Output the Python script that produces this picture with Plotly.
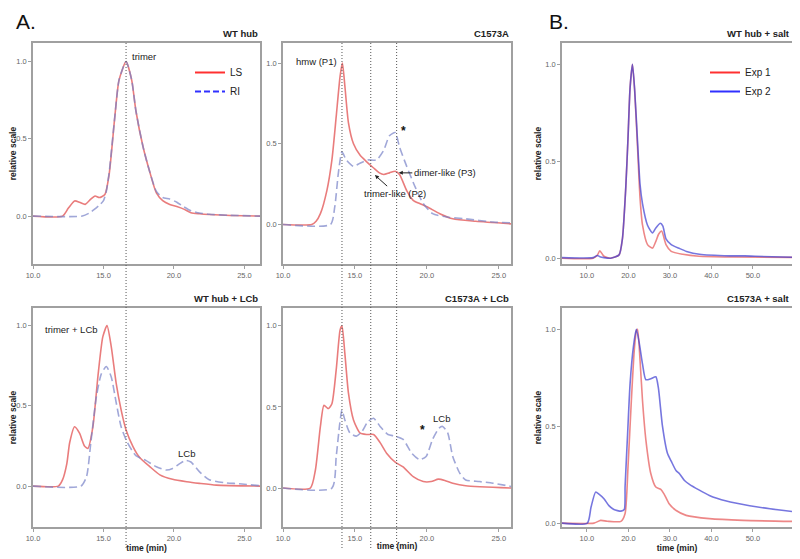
import plotly.graph_objects as go
from plotly.subplots import make_subplots

# ---- data (time in min, signal normalised) ----
# A. WT hub
wt_ls_t = [10, 12.1, 12.5, 12.95, 13.3, 13.7, 14.1, 14.4, 14.7, 15.1, 15.4, 15.8, 16.1, 16.6,
           17.0, 17.3, 17.8, 18.3, 18.75, 19.2, 19.7, 20.2, 20.7, 21.2, 21.8, 22.5, 24.0, 26.1]
wt_ls = [0, 0, 0.05, 0.098, 0.09, 0.076, 0.11, 0.13, 0.12, 0.14, 0.27, 0.64, 0.88, 1.0,
         0.88, 0.68, 0.45, 0.28, 0.15, 0.10, 0.075, 0.062, 0.045, 0.022, 0.015, 0.01, 0.004, 0]
wt_ri_t = [10, 13.5, 14.0, 14.3, 14.7, 15.0, 15.2, 15.4, 15.8, 16.1, 16.6, 17.0, 17.3, 17.8,
           18.3, 18.75, 19.2, 19.7, 20.2, 20.7, 21.2, 21.8, 22.5, 24.0, 26.1]
wt_ri = [0, 0, 0.02, 0.04, 0.07, 0.1, 0.16, 0.28, 0.64, 0.88, 1.0, 0.88, 0.68, 0.45,
         0.28, 0.16, 0.12, 0.11, 0.09, 0.06, 0.035, 0.02, 0.012, 0.005, 0]

# A. C1573A
mut_ls_t = [10, 12.0, 12.3, 12.6, 13.05, 13.4, 13.7, 13.97, 14.13, 14.3, 14.55, 14.9, 15.35,
            15.8, 16.3, 16.7, 17.0, 17.4, 17.8, 18.1, 18.6, 19.05, 19.5, 20.0, 20.9, 21.8, 23.4, 25.85]
mut_ls = [0, 0, 0.02, 0.067, 0.21, 0.4, 0.67, 0.92, 1.0, 0.86, 0.63, 0.5, 0.43,
          0.39, 0.35, 0.32, 0.31, 0.32, 0.33, 0.31, 0.21, 0.15, 0.13, 0.11, 0.067, 0.035, 0.02, 0.004]
mut_ri_t = [10, 13.3, 13.6, 13.85, 14.1, 14.4, 14.9, 15.35, 15.9, 16.5, 17.0, 17.4, 17.8, 18.1,
            18.6, 19.2, 19.75, 20.4, 21.4, 22.7, 24.6, 25.85]
mut_ri = [0, 0, 0.11, 0.32, 0.45, 0.4, 0.36, 0.38, 0.40, 0.40, 0.46, 0.55, 0.57, 0.48,
          0.36, 0.23, 0.13, 0.067, 0.046, 0.035, 0.015, 0.01]

# A. WT hub + LCb
wtl_ls_t = [10, 11.8, 12.1, 12.4, 12.6, 12.95, 13.3, 13.65, 13.9, 14.25, 14.6, 14.95, 15.25,
            15.55, 15.9, 16.25, 16.6, 17.1, 17.55, 18.3, 19.0, 19.9, 20.9, 21.8, 23.0, 26.1]
wtl_ls = [0, 0, 0.04, 0.14, 0.27, 0.37, 0.33, 0.25, 0.235, 0.37, 0.68, 0.93, 1.0,
          0.87, 0.64, 0.475, 0.35, 0.245, 0.18, 0.12, 0.07, 0.042, 0.027, 0.017, 0.006, 0]
wtl_ri_t = [10, 13.4, 13.8, 14.1, 14.5, 14.85, 15.2, 15.55, 15.9, 16.25, 16.7, 17.3, 18.0,
            18.75, 19.45, 19.9, 20.4, 20.85, 21.2, 21.8, 22.5, 23.7, 24.6, 26.1]
wtl_ri = [0, 0, 0.06, 0.27, 0.56, 0.70, 0.745, 0.68, 0.52, 0.37, 0.27, 0.19, 0.16,
          0.12, 0.10, 0.11, 0.14, 0.16, 0.15, 0.09, 0.04, 0.02, 0.015, 0.002]

# A. C1573A + LCb
mutl_ls_t = [10, 11.9, 12.25, 12.6, 12.85, 13.15, 13.4, 13.7, 13.97, 14.1, 14.3, 14.55, 14.9,
             15.35, 15.8, 16.3, 16.75, 17.2, 17.8, 18.35, 19.05, 19.75, 20.3, 20.8, 21.25,
             21.8, 22.7, 25.85]
mutl_ls = [0, 0, 0.11, 0.38, 0.51, 0.49, 0.52, 0.73, 0.975, 1.0, 0.83, 0.585, 0.42,
           0.34, 0.33, 0.33, 0.28, 0.215, 0.16, 0.13, 0.07, 0.04, 0.04, 0.055, 0.047,
           0.03, 0.014, 0]
mutl_ri_t = [10, 13.4, 13.7, 13.95, 14.1, 14.3, 14.65, 15.1, 15.5, 15.9, 16.3, 16.75, 17.3,
             17.8, 18.35, 18.95, 19.5, 19.95, 20.4, 20.85, 21.1, 21.45, 21.8, 22.3, 22.7,
             23.65, 24.6, 25.85]
mutl_ri = [0, 0, 0.195, 0.40, 0.48, 0.42, 0.34, 0.32, 0.35, 0.41, 0.43, 0.38, 0.33,
           0.32, 0.30, 0.215, 0.175, 0.195, 0.30, 0.37, 0.38, 0.34, 0.195, 0.09, 0.05,
           0.04, 0.03, 0.01]

# B. WT hub + salt
wts_e1_t = [4, 11.5, 12.5, 13.1, 14.1, 15.7, 17.75, 18.55, 19.35, 19.9, 20.4, 20.97, 21.5,
            22.2, 22.8, 23.4, 24.6, 25.8, 26.6, 27.3, 28.0, 29.05, 30.3, 33.1, 37, 45, 59.4]
wts_e1 = [0, 0, 0.015, 0.038, 0.01, 0.0, 0.017, 0.1, 0.36, 0.62, 0.88, 1.0, 0.865,
          0.57, 0.31, 0.17, 0.07, 0.052, 0.087, 0.125, 0.14, 0.07, 0.035, 0.02, 0.01, 0.006, 0.004]
wts_e2_t = [4, 11.5, 12.5, 13.1, 14.1, 15.7, 17.75, 18.55, 19.35, 19.9, 20.4, 20.97, 21.5,
            22.2, 22.8, 23.4, 24.6, 25.8, 26.6, 27.7, 28.3, 29.05, 30.3, 32.3, 34, 37.1,
            44.4, 48, 50.5, 59.4]
wts_e2 = [0.003, 0.003, 0.014, 0.008, 0.003, 0.0, 0.017, 0.1, 0.36, 0.62, 0.88, 1.0, 0.87,
          0.6, 0.38, 0.28, 0.17, 0.13, 0.156, 0.18, 0.165, 0.1, 0.07, 0.05, 0.035, 0.02,
          0.012, 0.012, 0.01, 0.005]

# B. C1573A + salt
muts_e1_t = [4, 11.7, 13.3, 14.9, 18.2, 19.2, 19.9, 20.7, 21.4, 21.9, 22.2, 22.8, 23.4, 24.2,
             25.4, 26.6, 27.8, 28.6, 29.8, 31.5, 33.9, 39.5, 47.6, 59.4]
muts_e1 = [0, 0, 0.014, 0.01, 0.009, 0.05, 0.29, 0.63, 0.89, 0.99, 1.0, 0.84, 0.63, 0.43,
           0.255, 0.186, 0.174, 0.15, 0.10, 0.065, 0.04, 0.023, 0.014, 0.009]
muts_e2_t = [4, 10.1, 11.0, 12.1, 12.9, 14.1, 15.3, 16.5, 18.2, 19.0, 19.2, 19.8, 20.4, 21.2,
             21.9, 22.6, 23.4, 24.2, 25.4, 26.6, 27.2, 28.2, 29.4, 30.3, 31.5, 32.3, 33.5,
             34.7, 39.5, 43.6, 49.2, 54.1, 59.4]
muts_e2 = [0, 0, 0.083, 0.16, 0.15, 0.126, 0.09, 0.07, 0.062, 0.07, 0.19, 0.46, 0.72, 0.91,
           1.0, 0.93, 0.82, 0.74, 0.745, 0.755, 0.70, 0.50, 0.36, 0.32, 0.27, 0.255, 0.22,
           0.20, 0.143, 0.114, 0.09, 0.074, 0.06]

panel_titles = ["WT hub", "C1573A", "WT hub + salt",
                "WT hub + LCb", "C1573A + LCb", "C1573A + salt"]

LS_C = "rgba(225, 80, 80, 0.75)"
RI_C = "rgba(120, 130, 200, 0.7)"
E1_C = "rgba(228, 70, 70, 0.65)"
E2_C = "rgba(60, 60, 210, 0.7)"
FONT = "Arial, Liberation Sans, sans-serif"

# page body has an 8px margin, so the figure is sized to fit the window
W, H = 792, 551
def px(x):
    return (x - 8) / W
def py(y):
    return 1 - (y - 8) / H

fig = make_subplots(rows=2, cols=3)

def add_pair(row, col, t1, y1, t2, y2, c1, c2, dash2):
    fig.add_trace(go.Scatter(x=t1, y=y1, mode="lines", showlegend=False,
                             line=dict(color=c1, width=1.6, shape="spline", smoothing=0.6)),
                  row=row, col=col)
    fig.add_trace(go.Scatter(x=t2, y=y2, mode="lines", showlegend=False,
                             line=dict(color=c2, width=1.6, dash=dash2, shape="spline",
                                       smoothing=0.6)),
                  row=row, col=col)

add_pair(1, 1, wt_ls_t, wt_ls, wt_ri_t, wt_ri, LS_C, RI_C, "8px,4px")
add_pair(1, 2, mut_ls_t, mut_ls, mut_ri_t, mut_ri, LS_C, RI_C, "8px,4px")
add_pair(2, 1, wtl_ls_t, wtl_ls, wtl_ri_t, wtl_ri, LS_C, RI_C, "8px,4px")
add_pair(2, 2, mutl_ls_t, mutl_ls, mutl_ri_t, mutl_ri, LS_C, RI_C, "8px,4px")
add_pair(1, 3, wts_e1_t, wts_e1, wts_e2_t, wts_e2, E1_C, E2_C, "solid")
add_pair(2, 3, muts_e1_t, muts_e1, muts_e2_t, muts_e2, E1_C, E2_C, "solid")

# legend entries
fig.add_trace(go.Scatter(x=[None], y=[None], mode="lines", name="LS", legend="legend",
                         line=dict(color="#ff3030", width=2)), row=1, col=1)
fig.add_trace(go.Scatter(x=[None], y=[None], mode="lines", name="RI", legend="legend",
                         line=dict(color="#3030ff", width=2, dash="6px,3px")), row=1, col=1)
fig.add_trace(go.Scatter(x=[None], y=[None], mode="lines", name="Exp 1", legend="legend2",
                         line=dict(color="#ff3030", width=2)), row=1, col=3)
fig.add_trace(go.Scatter(x=[None], y=[None], mode="lines", name="Exp 2", legend="legend2",
                         line=dict(color="#3030ff", width=2)), row=1, col=3)

# domains (pixel edges of the boxes in the reference)
xdom = [[px(33), px(260)], [px(283), px(511)], [px(562), px(792)]]
ydom = [[py(264), py(43)], [py(527), py(308)]]
yranges = [[-0.31, 1.12], [-0.245, 1.125], [-0.03, 1.11],
           [-0.255, 1.11], [-0.24, 1.11], [-0.02, 1.11]]
axis_common = dict(showgrid=False, zeroline=False, showline=True, mirror=True,
                   linecolor="#a0a0a0", linewidth=1.5, ticks="outside", ticklen=3,
                   tickcolor="#a0a0a0", automargin=False,
                   tickfont=dict(size=7.5, color="#666", family=FONT))
for i in range(6):
    r, c = divmod(i, 3)
    sfx = "" if i == 0 else str(i + 1)
    if c < 2:
        xr = [10, 26.1] if c == 0 else [10, 25.85]
        xt = [10, 15, 20, 25]
    else:
        xr = [4, 59.4]
        xt = [10, 20, 30, 40, 50]
    fig.layout["xaxis" + sfx].update(domain=xdom[c], range=xr, tickvals=xt, tickformat=".1f",
                                     **axis_common)
    fig.layout["yaxis" + sfx].update(domain=ydom[r], range=yranges[i], tickvals=[0, 0.5, 1.0],
                                     tickformat=".1f", **axis_common)
    if r == 1:
        fig.layout["xaxis" + sfx].update(title=dict(text="<b>time (min)</b>", standoff=1,
                                                    font=dict(size=8.5, color="#222", family=FONT)))
    if c != 1:
        fig.layout["yaxis" + sfx].update(title=dict(text="<b>relative scale</b>", standoff=2,
                                                    font=dict(size=8.5, color="#222", family=FONT)))
    fig.add_annotation(text="<b>" + panel_titles[i] + "</b>", xref="x" + sfx + " domain",
                       yref="y" + sfx + " domain", x=1, y=1, xanchor="right", yanchor="bottom",
                       yshift=2, showarrow=False, font=dict(size=9.5, color="#222", family=FONT))

# dotted guide lines spanning both rows
for xv in [16.6]:
    fig.add_shape(type="line", xref="x", yref="paper", x0=xv, x1=xv, y0=py(548), y1=py(43),
                  line=dict(color="#555", width=1, dash="1px,2px"))
for xv in [14.1, 16.1, 17.9]:
    fig.add_shape(type="line", xref="x2", yref="paper", x0=xv, x1=xv, y0=py(548), y1=py(43),
                  line=dict(color="#555", width=1, dash="1px,2px"))

ann_font = dict(size=9.5, color="#222", family=FONT)
fig.add_annotation(text="trimer", x=16.85, y=1.03, xref="x", yref="y", xanchor="left",
                   showarrow=False, font=ann_font)
fig.add_annotation(text="hmw (P1)", x=12.36, y=1.01, xref="x2", yref="y2",
                   showarrow=False, font=ann_font)
fig.add_annotation(text="<b>*</b>", x=18.35, y=0.58, xref="x2", yref="y2",
                   showarrow=False, font=dict(size=12, color="#111", family=FONT))
fig.add_annotation(text="dimer-like (P3)", x=18.05, y=0.32, xref="x2", yref="y2",
                   ax=46, ay=0, showarrow=True, arrowhead=2, arrowsize=0.8, arrowwidth=1,
                   arrowcolor="#222", font=ann_font)
fig.add_annotation(text="trimer-like (P2)", x=16.39, y=0.306, xref="x2", yref="y2",
                   ax=20, ay=18, showarrow=True, arrowhead=2, arrowsize=0.8, arrowwidth=1,
                   arrowcolor="#222", font=ann_font)
fig.add_annotation(text="trimer + LCb", x=12.76, y=0.975, xref="x4", yref="y4",
                   showarrow=False, font=ann_font)
fig.add_annotation(text="LCb", x=20.9, y=0.206, xref="x4", yref="y4",
                   showarrow=False, font=ann_font)
fig.add_annotation(text="<b>*</b>", x=19.7, y=0.36, xref="x5", yref="y5",
                   showarrow=False, font=dict(size=12, color="#111", family=FONT))
fig.add_annotation(text="LCb", x=21.0, y=0.43, xref="x5", yref="y5",
                   showarrow=False, font=ann_font)

# panel letters (top of the figure)
fig.add_annotation(text="A.", x=px(14), y=1, xref="paper", yref="paper",
                   xanchor="left", yanchor="top", showarrow=False,
                   font=dict(size=21, color="#111", family=FONT))
fig.add_annotation(text="B.", x=px(547), y=1, xref="paper", yref="paper",
                   xanchor="left", yanchor="top", showarrow=False,
                   font=dict(size=21, color="#111", family=FONT))

fig.update_layout(
    width=W, height=H,
    margin=dict(l=0, r=0, t=0, b=0),
    paper_bgcolor="white", plot_bgcolor="white",
    font=dict(family=FONT),
    legend=dict(x=px(190), y=py(58), xanchor="left", yanchor="top", bgcolor="rgba(0,0,0,0)",
                font=dict(size=10, color="#222", family=FONT), itemwidth=30),
    legend2=dict(x=px(705), y=py(58), xanchor="left", yanchor="top", bgcolor="rgba(0,0,0,0)",
                 font=dict(size=10, color="#222", family=FONT), itemwidth=30),
)

fig.write_html("out.html")
